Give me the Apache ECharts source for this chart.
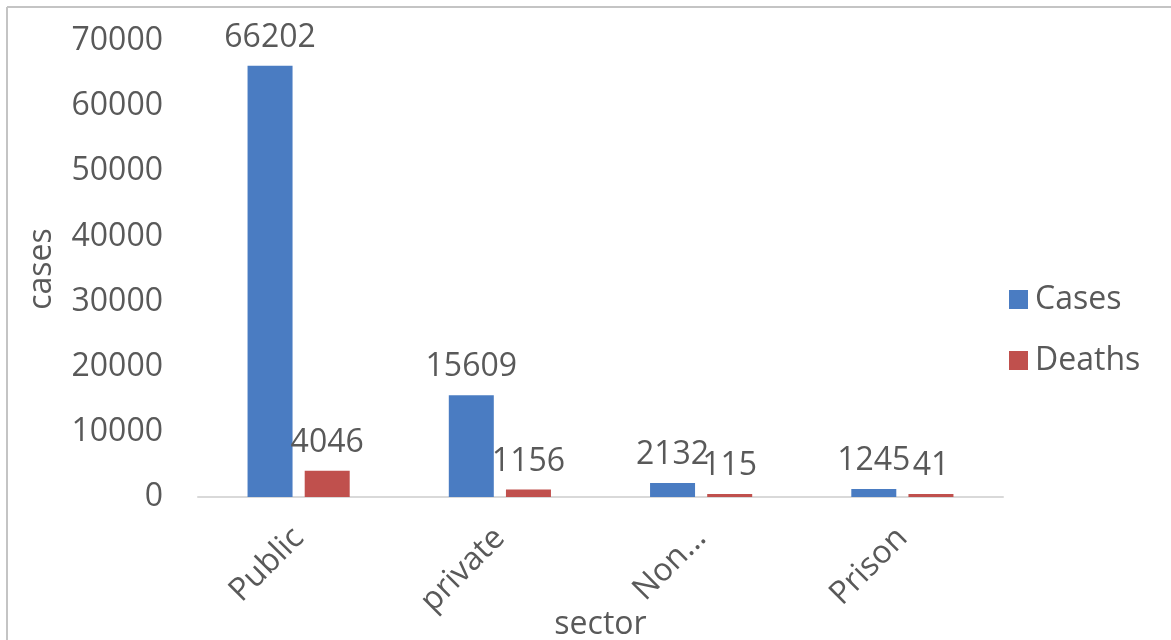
<!DOCTYPE html>
<html>
<head>
<meta charset="utf-8">
<script src="https://cdn.jsdelivr.net/npm/echarts@6/dist/echarts.min.js"></script>
<style>
  html, body { margin: 0; padding: 0; background: #fff; }
  #chart { width: 1171px; height: 640px; }
</style>
</head>
<body>
<div id="chart"></div>
<script>
// Sector breakdown of cases and deaths
const categories = ['Public', 'private', 'Non...', 'Prison'];
const casesValues = [66202, 15609, 2132, 1245];
const deathsValues = [4046, 1156, 115, 41];
const yTicks = { min: 0, max: 70000, interval: 10000 };

const textColor = '#595959';
const fontFamily = '"Open Sans", "Noto Sans", sans-serif';
const fontSize = 32;

const chart = echarts.init(document.getElementById('chart'), null, { renderer: 'canvas' });

const labelStyle = {
  show: true,
  position: 'top',
  distance: 12,
  color: textColor,
  fontFamily: fontFamily,
  fontSize: fontSize
};

chart.setOption({
  animation: false,
  backgroundColor: '#ffffff',
  grid: { left: 198, right: 168, top: 41, bottom: 143, containLabel: false, outerBoundsMode: 'none' },
  graphic: [
    { type: 'line', shape: { x1: 7, y1: 7, x2: 1171, y2: 7 }, style: { stroke: '#c4c4c4', lineWidth: 2 } },
    { type: 'line', shape: { x1: 7, y1: 7, x2: 7, y2: 640 }, style: { stroke: '#c4c4c4', lineWidth: 2 } }
  ],
  legend: {
    orient: 'vertical',
    left: 1004,
    top: 275,
    itemWidth: 19,
    itemHeight: 19,
    itemGap: 22,
    icon: 'rect',
    textStyle: { color: textColor, fontFamily: fontFamily, fontSize: fontSize, lineHeight: 39, padding: [0, 0, 0, 2] },
    data: ['Cases', 'Deaths']
  },
  xAxis: {
    type: 'category',
    data: categories,
    name: 'sector',
    nameLocation: 'middle',
    nameGap: 112,
    nameMoveOverlap: false,
    nameTextStyle: { color: textColor, fontFamily: fontFamily, fontSize: fontSize },
    axisLine: { show: true, lineStyle: { color: '#d9d9d9', width: 2 } },
    axisTick: { show: false },
    axisLabel: {
      rotate: 45,
      margin: 36,
      color: textColor,
      fontFamily: fontFamily,
      fontSize: fontSize
    }
  },
  yAxis: {
    type: 'value',
    min: yTicks.min,
    max: yTicks.max,
    interval: yTicks.interval,
    name: 'cases',
    nameLocation: 'middle',
    nameGap: 140,
    nameMoveOverlap: false,
    nameTextStyle: { color: textColor, fontFamily: fontFamily, fontSize: fontSize },
    axisLine: { show: false },
    axisTick: { show: false },
    splitLine: { show: false },
    axisLabel: {
      margin: 35,
      color: textColor,
      fontFamily: fontFamily,
      fontSize: fontSize,
      formatter: (v) => String(v)
    }
  },
  series: [
    {
      name: 'Cases',
      type: 'bar',
      data: casesValues,
      barWidth: 45,
      barGap: '27%',
      barMinHeight: 3,
      itemStyle: { color: '#4a7cc2' },
      label: labelStyle
    },
    {
      name: 'Deaths',
      type: 'bar',
      data: deathsValues,
      barWidth: 45,
      barMinHeight: 3,
      itemStyle: { color: '#c0504d' },
      label: labelStyle
    }
  ]
});
</script>
</body>
</html>
